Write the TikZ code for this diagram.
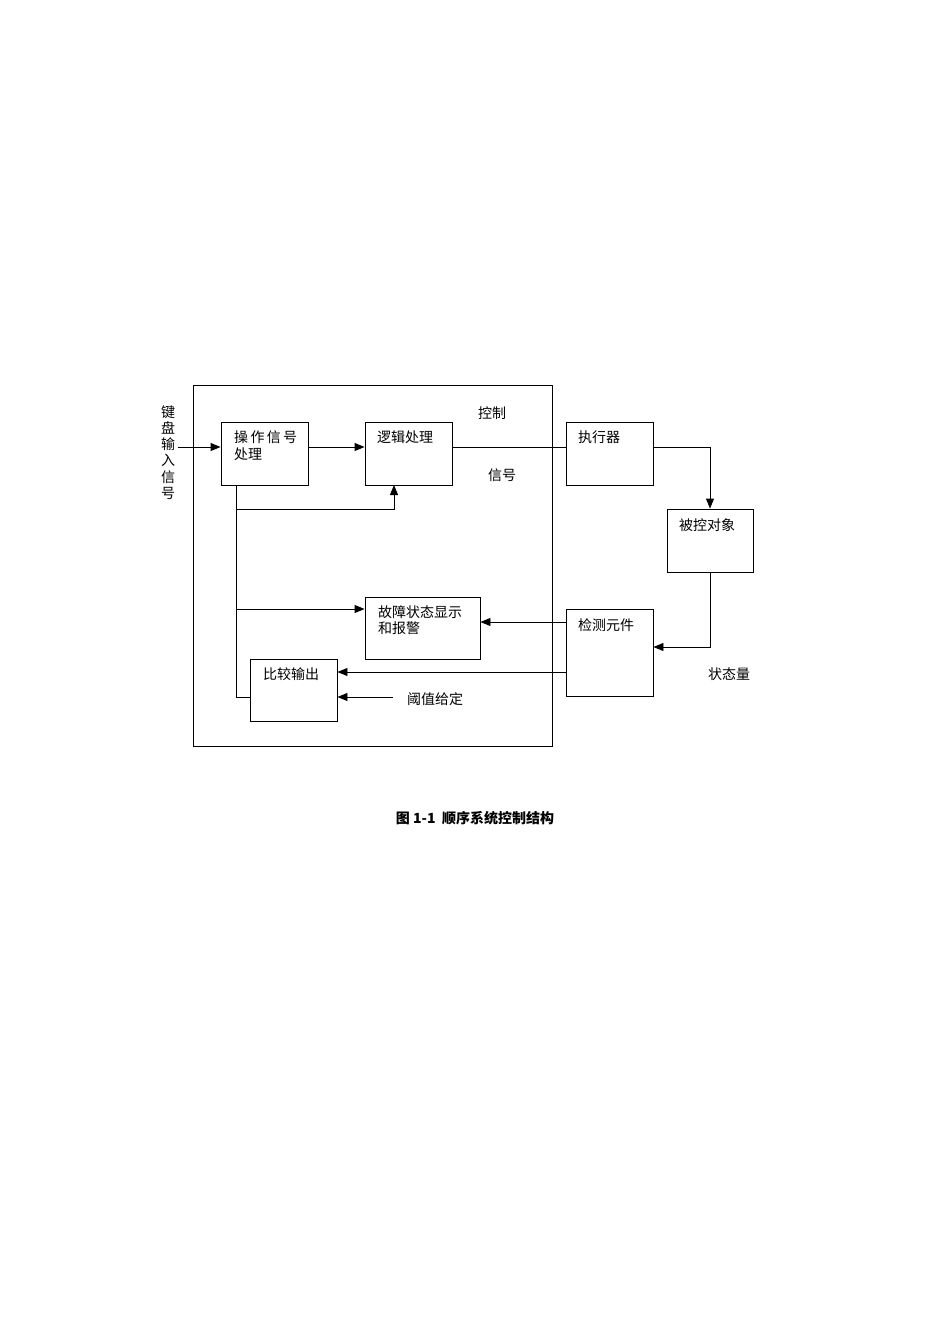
\documentclass[tikz,border=0pt]{standalone}
\usepackage{fontspec}
\newfontfamily\cjk{Noto Sans CJK SC}
\usetikzlibrary{arrows.meta}
\begin{document}
\begin{tikzpicture}[x=1pt,y=-1pt,
  box/.style={draw,line width=0.9pt,inner sep=0pt},
  txt/.style={anchor=west,inner sep=0pt,font=\cjk\fontsize{14}{15}\selectfont},
  ln/.style={line width=0.9pt},
  arr/.style={line width=0.9pt,-{Triangle[length=10pt,width=8pt]}}]
\useasboundingbox (0,0) rectangle (950,1344);
% outer frame
\node[box,minimum width=359,minimum height=361] (frame) at (372.5,565.5) {};
% boxes
\node[box,minimum width=87,minimum height=63] (op) at (264.5,453.5) {};
\node[box,minimum width=87,minimum height=63] (logic) at (408.5,453.5) {};
\node[box,minimum width=87,minimum height=63] (exec) at (609.5,453.5) {};
\node[box,minimum width=86,minimum height=63] (obj) at (710,540.5) {};
\node[box,minimum width=87,minimum height=87] (det) at (609.5,652.5) {};
\node[box,minimum width=115,minimum height=62] (fault) at (422.5,628) {};
\node[box,minimum width=87,minimum height=62] (cmp) at (293.5,690) {};
% texts
\node[txt] (t1) at (234,437) {操\,作\,信\,号};
\node[txt] (t2) at (234,454) {处理};
\node[txt] (t3) at (377,437) {逻辑处理};
\node[txt] (t4) at (578,437) {执行器};
\node[txt] (t5) at (679,525) {被控对象};
\node[txt] (t6) at (578,625) {检测元件};
\node[txt] (t7) at (378,612) {故障状态显示};
\node[txt] (t8) at (378,628) {和报警};
\node[txt] (t9) at (263,674) {比较输出};
\node[txt] (t10) at (407,699) {阈值给定};
\node[txt] (t11) at (478,413) {控制};
\node[txt] (t12) at (488,475) {信号};
\node[txt] (t13) at (708,674) {状态量};
\node[txt,anchor=north,align=center,font=\cjk\fontsize{14}{16.3}\selectfont] (kin) at (168,405) {键\\盘\\输\\入\\信\\号};
\node[anchor=center,inner sep=0pt,font=\cjk\bfseries\fontsize{14}{16}\selectfont] (cap) at (475,818) {图\ 1-1\ \ 顺序系统控制结构};
% coordinates
\coordinate (in) at (178,447);
\coordinate (ya) at (0,509);
\coordinate (yb) at (0,609);
\coordinate (yc) at (0,622);
\coordinate (yd) at (0,647);
\coordinate (ye) at (0,672);
\coordinate (yf) at (0,697);
\coordinate (trunk) at (236,485);
\coordinate (tap) at (394,485);
\coordinate (thr) at (393,697);
% connectors
\draw[arr] (in) -- (in -| op.west);
\draw[arr] (op.east |- in) -- (logic.west |- in);
\draw[ln] (logic.east |- in) -- (exec.west |- in);
\draw[arr] (exec.east |- in) -| (obj.north);
\draw[arr] (obj.south) |- (det.east |- yd);
\draw[ln] (trunk) |- (cmp.west |- yf);
\draw[arr] (trunk |- ya) -| (tap);
\draw[arr] (trunk |- yb) -- (fault.west |- yb);
\draw[arr] (det.west |- yc) -- (fault.east |- yc);
\draw[arr] (det.west |- ye) -- (cmp.east |- ye);
\draw[arr] (thr) -- (cmp.east |- thr);
\end{tikzpicture}
\end{document}
